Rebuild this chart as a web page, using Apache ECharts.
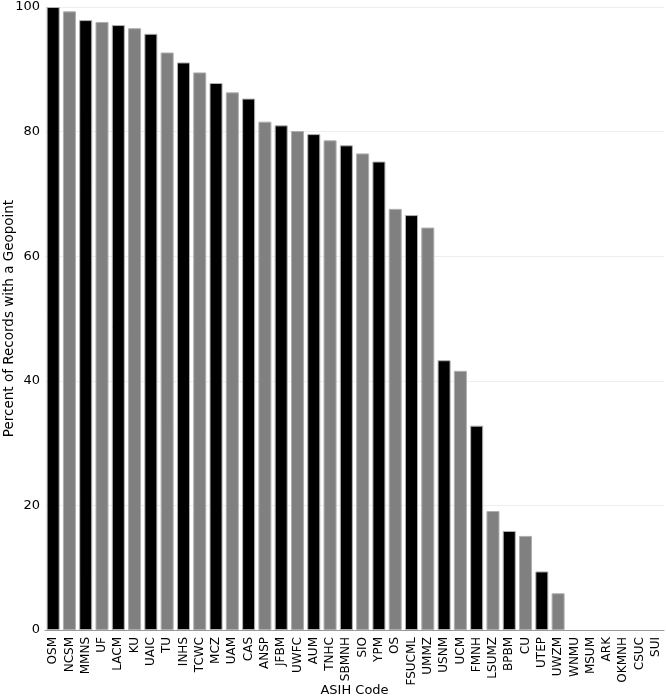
<!DOCTYPE html>
<html>
<head>
<meta charset="utf-8">
<script src="https://cdn.jsdelivr.net/npm/echarts@6/dist/echarts.min.js"></script>
<style>
html,body{margin:0;padding:0;background:#fff;}
#container{width:666px;height:699px;}
</style>
</head>
<body>
<div id="container"></div>
<script>
var codes = ['OSM','NCSM','MMNS','UF','LACM','KU','UAIC','TU','INHS','TCWC','MCZ','UAM','CAS','ANSP','JFBM','UWFC','AUM','TNHC','SBMNH','SIO','YPM','OS','FSUCML','UMMZ','USNM','UCM','FMNH','LSUMZ','BPBM','CU','UTEP','UWZM','WNMU','MSUM','ARK','OKMNH','CSUC','SUI'];
var percentGeo = [100,99.3,97.9,97.6,97.1,96.6,95.7,92.7,91.1,89.5,87.8,86.3,85.3,81.6,81.0,80.1,79.6,78.6,77.8,76.5,75.2,67.6,66.6,64.6,43.3,41.6,32.8,19.1,15.9,15.1,9.4,5.9,0,0,0,0,0,0];
var yTicks = [0,20,40,60,80,100];
var barColors = ['#000000','#808080'];

// zero bars get no outline so nothing shows on the axis
var barData = percentGeo.map(function (v) {
    return v > 0 ? v : { value: v, itemStyle: { borderWidth: 0 } };
});

var myChart = echarts.init(document.getElementById('container'));
var option = {
    animation: false,
    textStyle: { fontFamily: 'DejaVu Sans' },
    grid: { left: 45, right: 2, top: 7, bottom: 69, outerBoundsMode: 'none', containLabel: false },
    xAxis: {
        type: 'category',
        data: codes,
        name: 'ASIH Code',
        nameLocation: 'middle',
        nameMoveOverlap: false,
        nameGap: 54,
        nameTextStyle: { fontSize: 13, color: '#000' },
        axisLine: { lineStyle: { color: '#999' } },
        axisTick: { show: false },
        axisLabel: { rotate: 90, interval: 0, fontSize: 12, color: '#000', margin: 7 }
    },
    yAxis: {
        type: 'value',
        min: 0,
        max: 100,
        interval: 20,
        name: 'Percent of Records with a Geopoint',
        nameLocation: 'middle',
        nameMoveOverlap: false,
        nameGap: 29,
        nameTextStyle: { fontSize: 13.5, color: '#000' },
        axisLine: { show: false },
        axisTick: { show: false },
        axisLabel: { fontSize: 13, color: '#000', margin: 5,
            formatter: function (v) { return yTicks.indexOf(v) >= 0 ? v : ''; } },
        splitLine: { lineStyle: { color: '#eeeeee' } }
    },
    series: [{
        type: 'bar',
        data: barData,
        barCategoryGap: '20%',
        itemStyle: {
            color: function (p) { return barColors[p.dataIndex % 2]; },
            borderColor: '#b0b0b0',
            borderWidth: 1
        }
    }]
};
myChart.setOption(option, true);
</script>
</body>
</html>
